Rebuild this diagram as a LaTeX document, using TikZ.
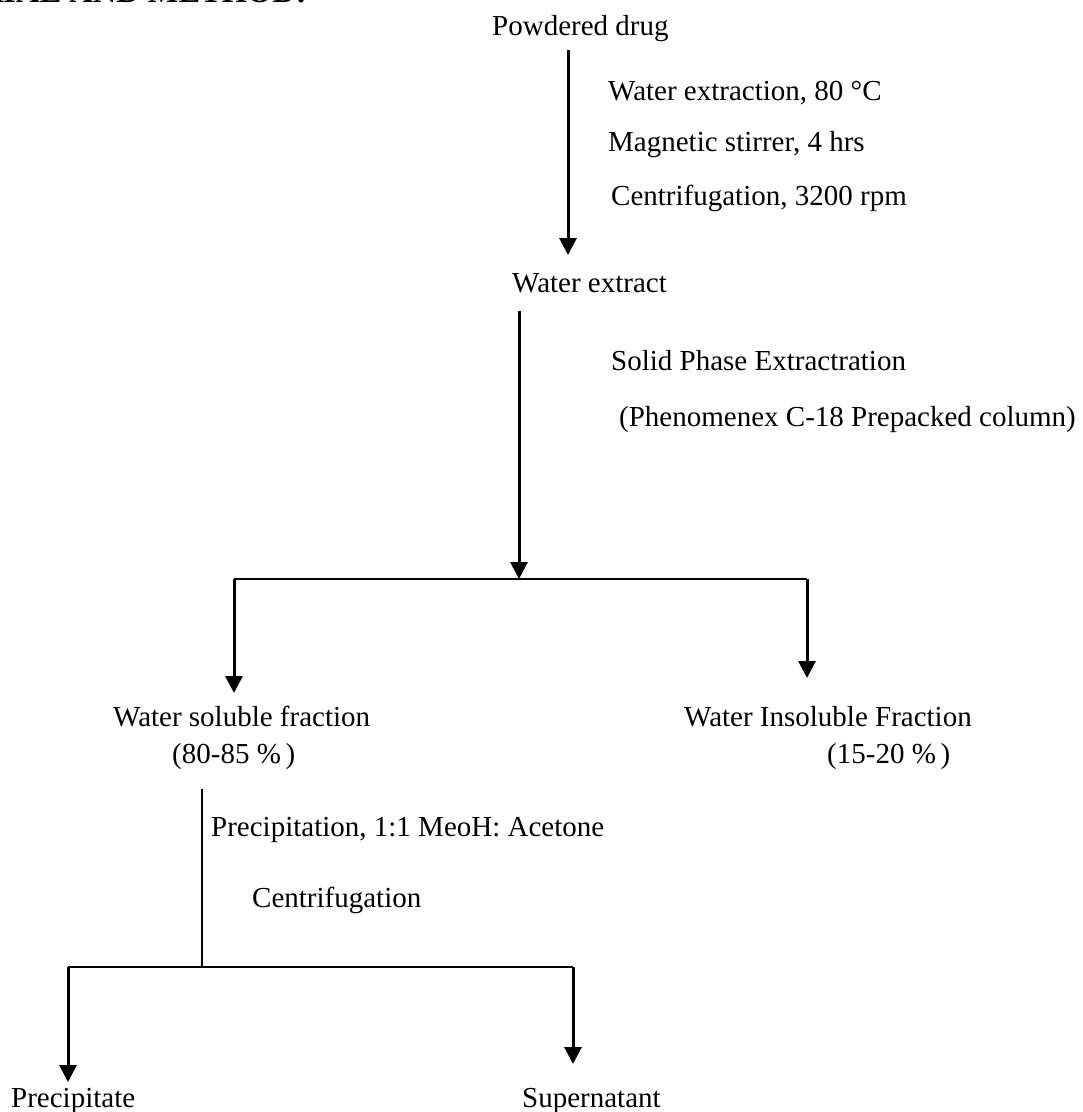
\documentclass[tikz,border=0pt]{standalone}
\usepackage{fontspec}
\setmainfont{Liberation Serif}
\usetikzlibrary{arrows.meta}
\begin{document}
\begin{tikzpicture}[x=1pt,y=-1pt,
  txt/.style={anchor=base west,inner sep=0pt,font=\fontsize{29}{35}\selectfont},
  arr/.style={line width=3pt,-{Triangle[width=17pt,length=17pt]}},
  ln/.style={line width=2.6pt},
  thin ln/.style={line width=1.7pt}]
\useasboundingbox[fill=white] (0,0) rectangle (1083,1112);
% cut-off heading
\node[anchor=base east,inner sep=0pt,font=\fontsize{32.5}{38}\selectfont\bfseries] (head) at (307,2.5) {MATERIAL AND METHOD:};
% texts
\node[txt] (pd) at (492,35) {Powdered drug};
\node[txt] (l1) at (608,100) {Water extraction, 80 °C};
\node[txt] (l2) at (608,151) {Magnetic stirrer, 4 hrs};
\node[txt] (l3) at (611,205) {Centrifugation, 3200 rpm};
\node[txt] (we) at (512,292) {Water extract};
\node[txt] (l4) at (611,370) {Solid Phase Extractration};
\node[txt] (l5) at (619,426) {(Phenomenex C-18 Prepacked column)};
\node[txt] (wsf) at (113,726) {Water soluble fraction};
\node[txt] (wsp) at (172,763) {(80-85 \%\,)};
\node[txt] (wif) at (684,726) {Water Insoluble Fraction};
\node[txt] (wip) at (827,763) {(15-20 \%\,)};
\node[txt] (l6) at (211,836) {Precipitation, 1:1 MeoH: Acetone};
\node[txt] (l7) at (252,907) {Centrifugation};
\node[txt] (pr) at (11,1107) {Precipitate};
\node[txt] (su) at (522,1107) {Supernatant};
% connector points
\coordinate (a1s) at (568,50);
\coordinate (a1e) at (568,255);
\coordinate (a2s) at (519,311);
\coordinate (j1) at (519,579);
\coordinate (j1l) at (234,579);
\coordinate (j1r) at (807,579);
\coordinate (t1l) at (234,693);
\coordinate (t1r) at (807,678);
\coordinate (a3s) at (202,789);
\coordinate (j2) at (202,967);
\coordinate (j2l) at (68,967);
\coordinate (j2r) at (573,967);
\coordinate (t2l) at (68,1082);
\coordinate (t2r) at (573,1064);
% connectors
\draw[arr] (a1s) -- (a1e);
\draw[arr] (a2s) -- (j1);
\draw[ln,line join=miter] (j1l) -- (j1r);
\draw[arr] (j1l) -- (t1l);
\draw[arr] (j1r) -- (t1r);
\draw[thin ln] (a3s) -- (j2);
\draw[ln] (j2l) -- (j2r);
\draw[arr] (j2l) -- (t2l);
\draw[arr] (j2r) -- (t2r);
\end{tikzpicture}
\end{document}
